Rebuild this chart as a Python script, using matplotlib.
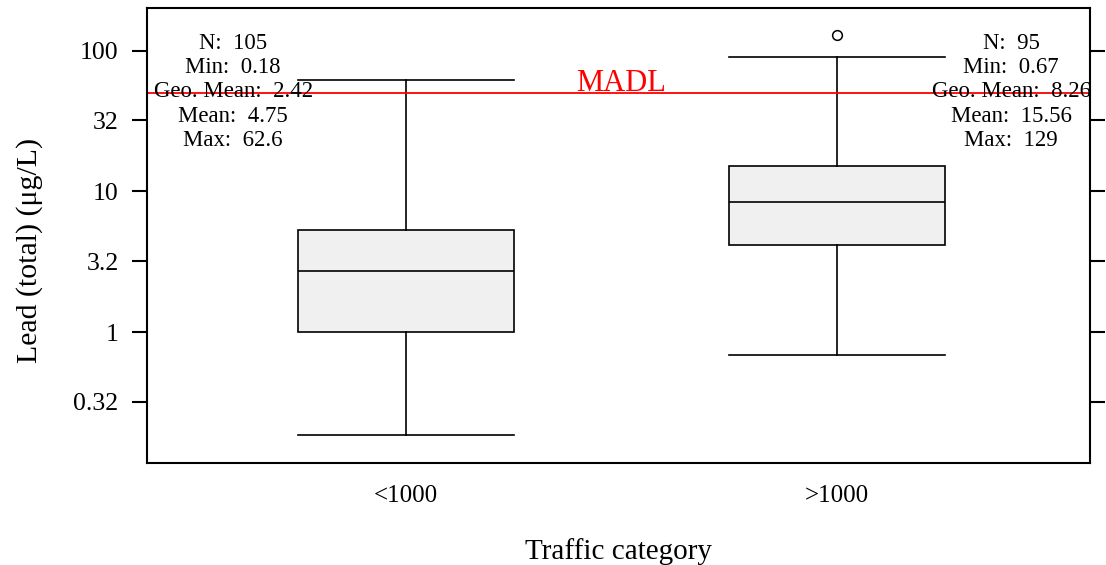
import matplotlib.pyplot as plt

plt.rcParams['font.family'] = ['Liberation Serif', 'DejaVu Serif']

# box statistics (ug/L)
categories = ['<1000', '>1000']
q1 = [1.0, 4.16]
medians = [2.72, 8.4]
q3 = [5.32, 15.2]
whis_lo = [0.185, 0.686]
whis_hi = [62.2, 90.6]
fliers = [[], [129]]

n_obs = [105, 95]
mins = ['0.18', '0.67']
geo_means = ['2.42', '8.26']
means = ['4.75', '15.56']
maxs = ['62.6', '129']

madl = 50
yticks = [0.32, 1, 3.2, 10, 32, 100]
ytick_labels = ['0.32', '1', '3.2', '10', '32', '100']

fig = plt.figure(figsize=(11.06, 5.65), dpi=100)
ax = fig.add_axes([0.1329, 0.1805, 0.8526, 0.8053])

stats = []
for i in range(len(categories)):
    stats.append(dict(med=medians[i], q1=q1[i], q3=q3[i],
                      whislo=whis_lo[i], whishi=whis_hi[i], fliers=fliers[i]))

lw = 1.2
ax.bxp(stats, positions=[1, 2], widths=0.5, capwidths=0.5, patch_artist=True,
       boxprops=dict(facecolor='#f0f0f0', edgecolor='black', linewidth=lw),
       medianprops=dict(color='black', linewidth=lw),
       whiskerprops=dict(color='black', linewidth=lw),
       capprops=dict(color='black', linewidth=lw),
       flierprops=dict(marker='o', markerfacecolor='none', markeredgecolor='black',
                       markersize=7, markeredgewidth=1.1))

ax.set_yscale('log')
ax.set_ylim(0.117, 202)
ax.set_xlim(0.399, 2.587)
ax.set_yticks(yticks)
ax.set_yticklabels(ytick_labels)
ax.minorticks_off()
ax.set_xticks([1, 2])
ax.set_xticklabels(categories)

ax.tick_params(axis='y', which='major', direction='out', length=11, width=1.5,
               labelsize=18.5, right=True, pad=9.5)
ax.tick_params(axis='x', length=0, labelsize=18, pad=16)
for s in ax.spines.values():
    s.set_linewidth(1.5)

# MADL line
ax.axhline(madl, color='red', linewidth=1.3)
ax.text(1.5, madl * 1.03, 'MADL', color='red', fontsize=22, ha='center', va='baseline')

# summary text
text_x = [0.599, 2.404]
for i in range(len(categories)):
    lines = ['N:  %d' % n_obs[i], 'Min:  ' + mins[i], 'Geo. Mean:  ' + geo_means[i],
             'Mean:  ' + means[i], 'Max:  ' + maxs[i]]
    ax.text(text_x[i], 0.945, '\n'.join(lines), transform=ax.get_xaxis_transform(),
            ha='center', va='top', fontsize=16.4, linespacing=1.2, multialignment='center')

ax.set_xlabel('Traffic category', fontsize=21, labelpad=22)
ax.set_ylabel('Lead (total) (μg/L)', fontsize=21.5)
ax.yaxis.set_label_coords(-0.110, 0.468)

fig.savefig('out.png', dpi=100)
